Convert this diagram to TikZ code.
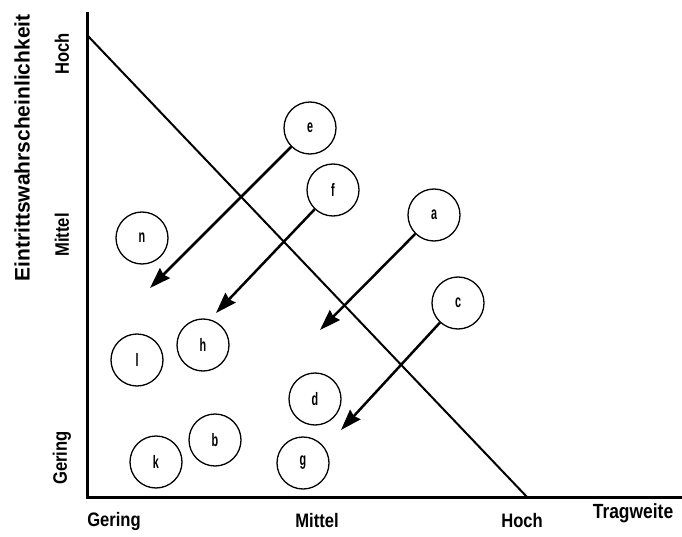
\documentclass[tikz,border=0pt]{standalone}
\usepackage{fontspec}
\setmainfont{Liberation Sans}
\newfontfamily\condfont{Liberation Sans}[FakeStretch=0.85]
\newfontfamily\narrowfont{Liberation Sans}[FakeStretch=0.6]
\usetikzlibrary{arrows.meta}
\begin{document}
\begin{tikzpicture}[x=1pt, y=-1pt,
  risk/.style={draw, circle, line width=1.3pt, minimum size=52pt, inner sep=0pt, font=\narrowfont\fontsize{18}{20}\selectfont\bfseries},
  tick/.style={font=\condfont\fontsize{19.5}{22}\selectfont\bfseries},
  shiftarrow/.style={-{Stealth[length=21pt,width=14pt,inset=2pt]}, line width=2.5pt}]
  \useasboundingbox (0,0) rectangle (682,537);
  % axes
  \coordinate (origin) at (87,497);
  \coordinate (ytop) at (87,12);
  \coordinate (xend) at (682,497);
  \draw[line width=3pt] (ytop) -- (origin) -- (xend);
  \node[font=\fontsize{21}{24}\selectfont\bfseries, rotate=90] (ylab) at (22,148) {Eintrittswahrscheinlichkeit};
  \node[tick, rotate=90] (yhoch) at (62,54) {Hoch};
  \node[tick, rotate=90] (ymittel) at (62,235) {Mittel};
  \node[tick, rotate=90] (ygering) at (62,458) {Gering};
  \node[tick] (xgering) at (114,521) {Gering};
  \node[tick] (xmittel) at (317,521) {Mittel};
  \node[tick] (xhoch) at (522,521) {Hoch};
  \node[tick, font=\condfont\fontsize{20.5}{22}\selectfont\bfseries] (xlab) at (633,513) {Tragweite};
  % boundary
  \coordinate (btop) at (87,35);
  \coordinate (bbot) at (527,497);
  \draw[line width=2pt] (btop) -- (bbot);
  % risks
  \node[risk] (e) at (310,128) {e};
  \node[risk] (f) at (333,190) {f};
  \node[risk] (a) at (434,215) {a};
  \node[risk] (c) at (458,303) {c};
  \node[risk] (n) at (142,238) {n};
  \node[risk] (l) at (137,360) {l};
  \node[risk] (h) at (203,345) {h};
  \node[risk] (d) at (315,399) {d};
  \node[risk] (b) at (215,440) {b};
  \node[risk] (k) at (156,462) {k};
  \node[risk] (g) at (303,463) {g};
  % measures
  \coordinate (eTip) at (150,288);
  \coordinate (fTip) at (216,313);
  \coordinate (aTip) at (320,330);
  \coordinate (cTip) at (341,430);
  \draw[shiftarrow] (e) -- (eTip);
  \draw[shiftarrow] (f) -- (fTip);
  \draw[shiftarrow] (a) -- (aTip);
  \draw[shiftarrow] (c) -- (cTip);
\end{tikzpicture}
\end{document}
